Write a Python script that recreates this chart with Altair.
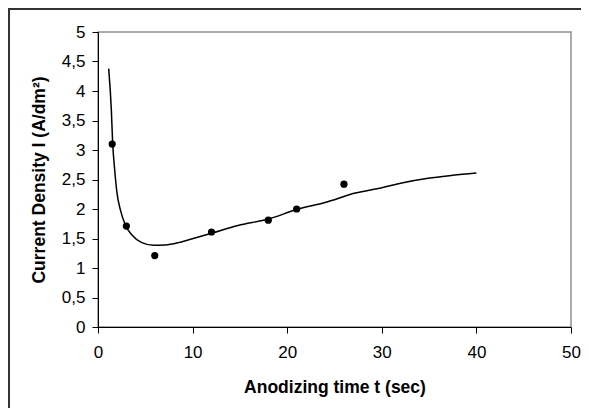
import altair as alt
import pandas as pd

# measured points
t_points = [1.5, 3, 6, 12, 18, 21, 26]
i_points = [3.10, 1.71, 1.21, 1.61, 1.81, 2.00, 2.42]

# fitted curve
t_curve = [1.13, 1.41, 1.55, 1.76, 2.01, 2.36, 2.89, 3.59, 4.64, 5.88, 7.1, 8.5,
           9.6, 12.0, 14.8, 18.0, 21.0, 24.0, 27.2, 30.0, 32.1, 34.9, 37.5, 40.0]
i_curve = [4.38, 3.68, 3.12, 2.67, 2.27, 1.99, 1.73, 1.56, 1.43, 1.385, 1.39, 1.43,
           1.48, 1.59, 1.72, 1.83, 1.99, 2.11, 2.27, 2.36, 2.44, 2.52, 2.57, 2.61]

x_ticks = [0, 10, 20, 30, 40, 50]
y_ticks = [0, 0.5, 1, 1.5, 2, 2.5, 3, 3.5, 4, 4.5, 5]

pts = pd.DataFrame({"t": t_points, "I": i_points})
crv = pd.DataFrame({"t": t_curve, "I": i_curve})

FONT = "Liberation Sans"

x_enc = alt.X("t:Q", scale=alt.Scale(domain=[0, 50], nice=False),
              axis=alt.Axis(values=x_ticks, title="Anodizing time t (sec)",
                            grid=False, tickSize=6, labelPadding=11,
                            labelFlush=False, labelOverlap=False,
                            titlePadding=18, labelFontSize=17, titleFontSize=17.5,
                            labelFont=FONT, titleFont=FONT, labelColor="black",
                            titleColor="black", domainColor="black", tickColor="black",
                            labelFontWeight="normal", titleFontWeight="bold"))
y_enc = alt.Y("I:Q", scale=alt.Scale(domain=[0, 5], nice=False),
              axis=alt.Axis(values=y_ticks, title="Current Density I (A/dm²)",
                            labelExpr="replace(format(datum.value, '~r'), '.', ',')",
                            labelFlush=False, labelOverlap=False, labelSeparation=0,
                            grid=False, tickSize=6, labelPadding=7,
                            titlePadding=13, labelFontSize=17, titleFontSize=17.5,
                            labelFont=FONT, titleFont=FONT, labelColor="black",
                            titleColor="black", domainColor="black", tickColor="black",
                            titleFontWeight="bold"))

line = alt.Chart(crv).mark_line(color="black", strokeWidth=1.5,
                                interpolate="monotone").encode(x=x_enc, y=y_enc)
points = alt.Chart(pts).mark_circle(color="black", opacity=1, size=52).encode(x=x_enc, y=y_enc)

one = pd.DataFrame({"a": [0]})
frame_top = alt.Chart(one).mark_rule(color="#333333", strokeWidth=2, clip=False).encode(
    x=alt.value(-89), x2=alt.value(600), y=alt.value(-23))
frame_left = alt.Chart(one).mark_rule(color="#333333", strokeWidth=2, clip=False).encode(
    x=alt.value(-89), y=alt.value(-24), y2=alt.value(500))

chart = alt.layer(frame_top, frame_left, line, points).properties(
    width=473, height=295,
    padding={"left": 90, "top": 24, "right": 10, "bottom": 81},
    autosize=alt.AutoSizeParams(type="none"),
    background="white",
).configure_view(stroke="#909090", strokeWidth=1.5)

chart.save("out.html", embed_options={"renderer": "svg", "actions": False})
